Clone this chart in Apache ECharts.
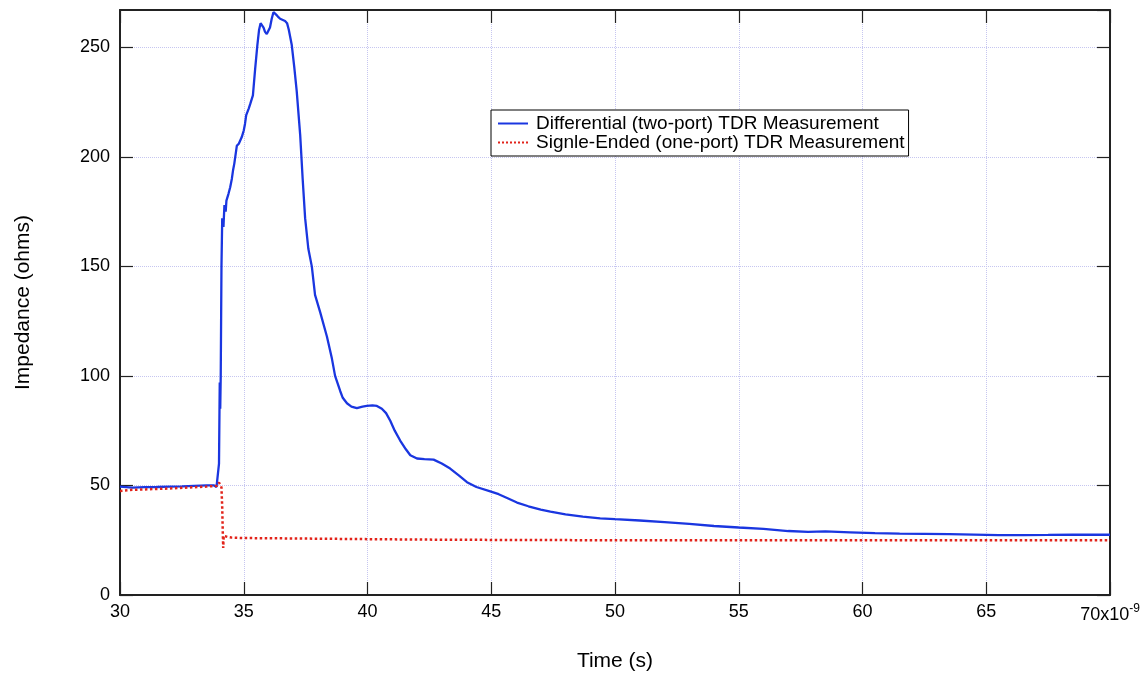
<!DOCTYPE html>
<html>
<head>
<meta charset="utf-8">
<script src="https://cdn.jsdelivr.net/npm/echarts@6/dist/echarts.min.js"></script>
<style>html,body{margin:0;padding:0;background:#fff;}#c{width:1146px;height:677px;}</style>
</head>
<body>
<div id="c"></div>
<script>
// Time values are in units of 1e-9 s (axis labelled "x10^-9")
const seriesNames = ['Differential (two-port) TDR Measurement', 'Signle-Ended (one-port) TDR Measurement'];
const xTicks = [30, 35, 40, 45, 50, 55, 60, 65, 70];
const yTicks = [0, 50, 100, 150, 200, 250];

const diffT = [30.0,30.5,31.0,31.5,32.0,32.5,33.0,33.5,33.8,33.9,33.97,34.0,34.02,34.03,34.05,34.07,34.1,34.13,34.18,34.22,34.27,34.3,34.38,34.45,34.52,34.57,34.62,34.72,34.8,34.92,35.0,35.05,35.1,35.2,35.26,35.37,35.46,35.55,35.62,35.68,35.73,35.8,35.86,35.93,35.99,36.06,36.13,36.2,36.25,36.3,36.38,36.47,36.55,36.67,36.75,36.82,36.94,37.04,37.14,37.28,37.38,37.48,37.61,37.75,37.88,38.09,38.36,38.56,38.69,38.9,39.0,39.17,39.35,39.57,39.8,39.97,40.2,40.38,40.58,40.75,40.92,41.1,41.32,41.55,41.73,42.0,42.3,42.67,43.0,43.34,43.7,44.02,44.4,44.96,45.3,45.64,46.04,46.5,47.0,47.39,48.0,48.7,49.4,50.0,51.0,52.0,53.0,54.0,55.0,56.0,57.0,57.8,58.5,59.5,60.5,61.5,62.5,63.5,64.5,65.5,66.5,67.5,68.5,70.0];
const diffZ = [49.5,49.0,49.2,49.3,49.5,49.6,49.8,50.0,50.0,49.3,50.0,60,85,97,85,100,150,172,168,178,175,180,183,186,190,194,197,205,206,209,212,215,219,222,224,228,240,251,258,261,261,259,257,256,256.5,259,263,266,266.5,265,264,263,263,262,261,258,251,241,230,210,190,172,158,150,137,129,118,108,100,93,90,87.5,86,85.3,86,86.3,86.5,86.3,85,83,79.5,75,70.5,66.5,63.8,62.3,62,61.8,60,57.7,54.5,51.5,49.3,47.3,46,44.3,42.2,40.5,39,38,36.8,35.8,35,34.6,34,33.3,32.5,31.5,30.8,30.2,29.2,28.8,29,28.6,28.2,28,27.9,27.8,27.6,27.3,27.3,27.4,27.6,27.5];

const seT = [30.0,30.5,31.0,32.0,33.0,33.5,33.9,34.0,34.07,34.1,34.13,34.15,34.17,34.19,34.25,34.35,34.5,35.0,36.0,38.0,40.0,42.0,44.0,46.0,50.0,55.0,60.0,65.0,70.0];
const seZ = [47.5,48.0,48.2,48.6,49.2,49.5,49.8,51.3,50,49,40,30,21.5,27,27.5,26.5,26.2,26,25.9,25.7,25.5,25.3,25.2,25.1,25,25,25,25,25];

const pair = (t, z) => t.map((v, i) => [v, z[i]]);
const FONT = 'Liberation Sans';

const chart = echarts.init(document.getElementById('c'), null, {renderer: 'canvas'});
const common = {
  axisLine: {show: true, onZero: false, lineStyle: {color: '#222', width: 2}},
  axisTick: {show: true, inside: true, length: 13, lineStyle: {color: '#222', width: 1.2}},
};
const grid = {type: 'dotted', color: '#c6c6f0', width: 1};
chart.setOption({
  animation: false,
  backgroundColor: '#fff',
  grid: {left: 120, right: 36, top: 10, bottom: 80, show: false},
  legend: {
    orient: 'vertical', left: 491, top: 110,
    padding: [4, 4, 4, 6], itemGap: 0, itemWidth: 30, itemHeight: 14,
    borderColor: '#000', borderWidth: 1, backgroundColor: '#fff',
    itemStyle: {opacity: 0},
    textStyle: {fontFamily: FONT, fontSize: 19, lineHeight: 19, color: '#000', padding: [0, 0, 0, 3]},
    data: seriesNames
  },
  xAxis: [
    Object.assign({type: 'value', min: xTicks[0], max: xTicks[xTicks.length-1], interval: 5, position: 'bottom',
      name: 'Time (s)', nameLocation: 'middle', nameGap: 56,
      nameTextStyle: {fontFamily: FONT, fontSize: 21, color: '#000'},
      axisLabel: {fontFamily: FONT, fontSize: 18, color: '#000', margin: 8,
        formatter: v => v === 70 ? '{b|70x10}{s|-9}' : String(v),
        rich: {b: {fontFamily: FONT, fontSize: 18, color: '#000'}, s: {fontFamily: FONT, fontSize: 12, color: '#000', padding: [0, 0, 12, 0]}}},
      splitLine: {show: true, lineStyle: grid}}, common),
    Object.assign({type: 'value', min: xTicks[0], max: xTicks[xTicks.length-1], interval: 5, position: 'top',
      axisLabel: {show: false}, splitLine: {show: false}}, common)
  ],
  yAxis: [
    Object.assign({type: 'value', min: 0, max: 267, interval: 50, position: 'left',
      name: 'Impedance (ohms)', nameLocation: 'middle', nameGap: 86, nameRotate: 90,
      nameTextStyle: {fontFamily: FONT, fontSize: 21, color: '#000'},
      axisLabel: {fontFamily: FONT, fontSize: 18, color: '#000', margin: 10, showMaxLabel: false,
        formatter: v => yTicks.includes(v) ? String(v) : ''},
      splitLine: {show: true, lineStyle: grid}}, common),
    Object.assign({type: 'value', min: 0, max: 267, interval: 50, position: 'right',
      axisLabel: {show: false}, splitLine: {show: false}}, common)
  ],
  series: [
    {name: seriesNames[0], type: 'line', xAxisIndex: 0, yAxisIndex: 0, data: pair(diffT, diffZ),
      showSymbol: false, symbol: 'none', lineStyle: {color: '#1a36e0', width: 2.3}, itemStyle: {color: '#1a36e0'}, z: 3},
    {name: seriesNames[1], type: 'line', xAxisIndex: 0, yAxisIndex: 0, data: pair(seT, seZ),
      showSymbol: false, symbol: 'none', lineStyle: {color: '#e2231a', width: 2.5, type: 'dotted'}, itemStyle: {color: '#e2231a'}, z: 4}
  ]
});
</script>
</body>
</html>
